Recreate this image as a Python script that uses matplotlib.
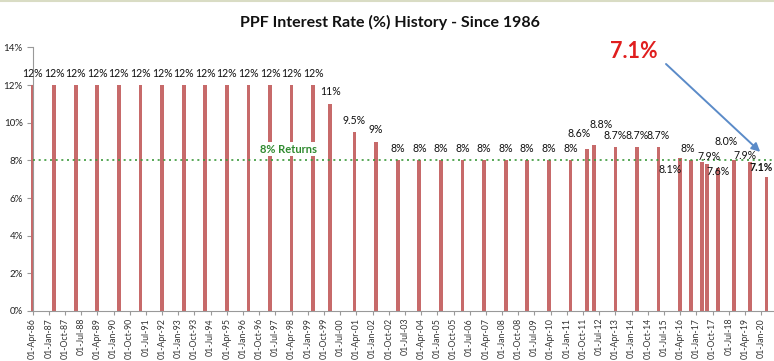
import matplotlib
matplotlib.use("Agg")
import matplotlib.pyplot as plt
import matplotlib.dates as mdates
import pandas as pd
import numpy as np

# ---------------- data ----------------
dates = ["1986-04-01", "1987-04-01", "1988-04-01", "1989-04-01", "1990-04-01",
         "1991-04-01", "1992-04-01", "1993-04-01", "1994-04-01", "1995-04-01",
         "1996-04-01", "1997-04-01", "1998-04-01", "1999-04-01",
         "2000-01-15", "2001-03-01", "2002-03-01",
         "2003-03-01", "2004-03-01", "2005-03-01", "2006-03-01", "2007-03-01",
         "2008-03-01", "2009-03-01", "2010-03-01", "2011-03-01",
         "2011-12-01", "2012-04-01", "2013-04-01", "2014-04-01", "2015-04-01",
         "2016-04-01", "2016-10-01", "2017-04-01", "2017-07-01", "2018-01-01",
         "2018-10-01", "2019-07-01", "2020-04-01"]
rates = [12, 12, 12, 12, 12, 12, 12, 12, 12, 12, 12, 12, 12, 12,
         11, 9.5, 9,
         8, 8, 8, 8, 8, 8, 8, 8, 8,
         8.6, 8.8, 8.7, 8.7, 8.7,
         8.1, 8.0, 7.9, 7.8, 7.6,
         8.0, 7.9, 7.1]
labels = ["12%"] * 14 + ["11%", "9.5%", "9%"] + ["8%"] * 9 + \
         ["8.6%", "8.8%", "8.7%", "8.7%", "8.7%",
          "8.1%", "8%", "7.9%", "", "7.6%",
          "8.0%", "7.9%", "7.1%"]
title = "PPF Interest Rate (%) History - Since 1986"
benchmark = 8.0
benchmark_label = "8% Returns"
callout = "7.1%"

# label offsets (pixels, relative to bar top centre) - style only
default_off = (0, 12)
special_off = {26: (-8, 16), 27: (7, 21), 31: (-10, -11), 32: (-3, 12),
               33: (7, 6), 35: (0, -4), 36: (-8, 19), 37: (-5, 7), 38: (-5, 10)}

# ---------------- figure ----------------
W, H, DPI = 774, 361, 100
fig = plt.figure(figsize=(W / DPI, H / DPI), dpi=DPI)
fig.patch.set_facecolor("white")

ax_left, ax_bottom, ax_top = 32.5, 311, 47.4
ax = fig.add_axes([ax_left / W, (H - ax_bottom) / H, 1 - ax_left / W,
                   (ax_bottom - ax_top) / H])

x = pd.to_datetime(dates)
bar_color = "#C76A6A"
bars = ax.bar(x, rates, width=64, color=bar_color, zorder=2, align="center")
for b in bars:
    b.set_clip_on(False)

# x limits: px scale 21.59 px / year
px_per_year = 21.59
x0 = pd.Timestamp("1986-04-01")
x1 = x0 + pd.Timedelta(days=(W - ax_left) / px_per_year * 365.25)
ax.set_xlim(x0, x1)
ax.set_ylim(0, 14)

# ticks
ticks = pd.date_range("1986-04-01", "2020-01-01", freq="9MS")
ax.set_xticks(ticks)
ax.xaxis.set_major_formatter(mdates.DateFormatter("%d-%b-%y"))
for lab in ax.get_xticklabels():
    lab.set_rotation(90)
    lab.set_fontsize(6.3)
    lab.set_family(["Lato", "DejaVu Sans"])
    lab.set_color("#333333")
ax.set_yticks(np.arange(0, 15, 2))
ax.set_yticklabels([f"{v}%" for v in range(0, 15, 2)], fontsize=7.0,
                   family=["Lato", "DejaVu Sans"], color="#222222")
ax.tick_params(axis="x", length=3, color="#999999", pad=2)
ax.tick_params(axis="y", length=4, color="#999999", pad=3)

for s in ["top", "right"]:
    ax.spines[s].set_visible(False)
ax.spines["left"].set_color("#999999")
ax.spines["bottom"].set_color("#999999")
ax.spines["left"].set_linewidth(0.8)
ax.spines["bottom"].set_linewidth(0.8)

# benchmark line
ax.axhline(benchmark, color="#3C9A3C", linestyle=(0, (1.2, 2.2)), linewidth=1.2, zorder=3)
ax.text(pd.Timestamp("1998-02-01"), 8.6, benchmark_label, color="#2F8A2F",
        fontsize=8, fontweight="bold", family=["Lato", "DejaVu Sans"],
        ha="center", va="center", zorder=4,
        bbox=dict(facecolor="white", edgecolor="none", pad=1.0))

# data labels
for i, (xi, yi, lb) in enumerate(zip(x, rates, labels)):
    if not lb:
        continue
    dx, dy = special_off.get(i, default_off)
    bold = (i == len(rates) - 1)
    ax.annotate(lb, xy=(xi, yi), xytext=(dx * 0.72, dy * 0.72),
                textcoords="offset points", ha="center", va="center",
                fontsize=7.6, fontweight="bold" if bold else "normal",
                family=["Lato", "DejaVu Sans"], color="#111111",
                zorder=5, annotation_clip=False)

# title
fig.text(390 / W, 1 - 22 / H, title, ha="center", va="center",
         fontsize=11.5, fontweight="bold", family=["Lato", "DejaVu Sans"],
         color="#111111")

# callout
fig.text(634 / W, 1 - 52 / H, callout, ha="center", va="center",
         fontsize=15.5, fontweight="bold", family=["Lato", "DejaVu Sans"],
         color="#E01E1E")
ax.annotate("", xy=(pd.Timestamp("2019-12-15"), 8.45),
            xytext=(666 / W, 1 - 64 / H), textcoords="figure fraction",
            arrowprops=dict(arrowstyle="-|>,head_length=0.5,head_width=0.25",
                            color="#5B8BC8", lw=1.4, shrinkA=0, shrinkB=0),
            annotation_clip=False, zorder=6)

# thin frame line on top edge
fig.add_artist(plt.Line2D([0, 1], [1 - 0.5 / H, 1 - 0.5 / H], transform=fig.transFigure,
                          color="#D9DCC4", lw=1.5))

fig.savefig("out.png", dpi=DPI)
